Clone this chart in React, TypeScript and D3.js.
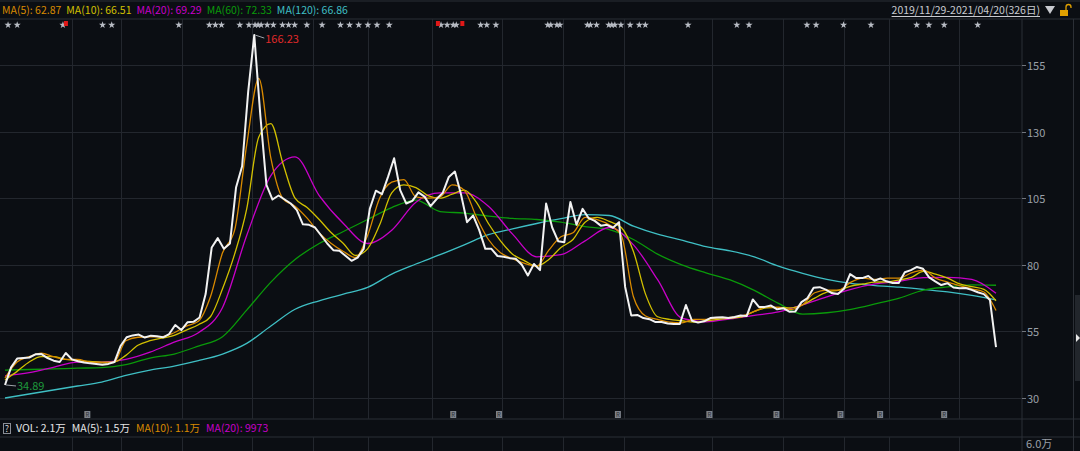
import React, { useEffect, useRef } from 'react';
import * as d3 from 'd3';

// trading days in the window 2019/11/29 - 2021/04/20
const DAYS = 326;

// daily close, read every ~2 trading days
const closes = [
  34.89, 41.5, 44.8, 45, 45.2, 46.4, 46.5, 45, 44, 43.5,
  46.9, 44.5, 43.8, 43.3, 43, 42.8, 42.5, 42.8, 43.5, 49.5,
  52.8, 53.5, 53.8, 52.7, 53.4, 53.2, 52.8, 54, 57.4, 55.5,
  58.4, 58.6, 60.2, 69, 86.5, 90, 86, 88, 109, 117,
  145, 166.23, 136, 110, 104.5, 106, 104.5, 103, 100.5, 95.2,
  95, 94, 91, 88, 85.5, 85.3, 83.4, 81.5, 82.7, 86,
  101, 107.8, 106.5, 113, 120, 108, 103, 104, 107.2, 105.6,
  102, 104.7, 107, 113, 115, 106.5, 96, 98.5, 93, 86,
  86, 83.3, 83, 82.5, 82.3, 80, 76, 80.3, 78, 103,
  94, 88.8, 88.5, 103.6, 95, 101, 97.5, 96.5, 94.7, 95,
  93.9, 96, 71.7, 61, 61.2, 60, 59.6, 58.5, 58.5, 58,
  57.8, 57.8, 64.9, 59, 58.3, 58.8, 60, 60.2, 60.3, 60,
  60.4, 61, 60.8, 67, 64.2, 64.2, 64.7, 63.3, 63.7, 62.4,
  62.5, 66, 67.5, 71.4, 71.6, 70.7, 69.4, 69, 71, 76.5,
  75, 75, 75.8, 74, 74.9, 73.8, 73.2, 73.2, 77.2, 78,
  79.2, 78.5, 75.3, 73.8, 72.4, 73.1, 71.5, 71.2, 71.3, 70.6,
  69.7, 69, 66.8, 49.1,
];

const ma5 = [
  37.5, 43.5, 45.5, 46.8, 45.5, 44.5, 44.5, 43.5, 43.2, 43.3,
  51.5, 52.8, 53, 53, 54.5, 57, 58.8, 68, 84.5, 93,
  125, 150, 120, 104.8, 102, 97.5, 92, 88, 85, 82.7,
  91, 105, 111, 112, 105.5, 105, 105.5, 110, 108, 98,
  89.5, 84.5, 82.3, 80.5, 79.5, 85.5, 90.5, 92, 97.8, 97,
  95, 91, 68, 60.8, 59.5, 58.5, 58.2, 59.5, 59.5, 60,
  60.3, 60.8, 62.5, 64.2, 64, 63.2, 65, 69.5, 70.5, 70.5,
  73.5, 75, 74.5, 75, 75, 77, 78, 75, 73.5, 72.2,
  71, 69.8, 62.87,
];

const ma10 = [
  36.8, 40, 43.5, 45.5, 45.5, 44.5, 44, 43.7, 43.5, 43.5,
  46, 49.8, 51.5, 52.5, 53.5, 55.5, 57.5, 60.5, 71, 84,
  101, 128, 133, 118, 105, 101.5, 97, 92, 88, 83.5,
  86, 95, 107, 110, 109, 106, 105, 106.5, 108, 103.5,
  95.5, 89, 84, 81.5, 79.5, 82, 86.5, 89.5, 96, 97.8,
  96.3, 94, 85, 69, 60.5, 59.5, 59, 58.5, 59, 59.5,
  60, 60.5, 62.5, 63.8, 64, 63.8, 65, 67.5, 69.7, 70.5,
  72, 72.8, 73.5, 73.6, 74.3, 75.3, 77.5, 76.5, 75, 72.8,
  71.8, 70.8, 66.51,
];

const ma20 = [
  38.3, 39.5, 41.5, 43.5, 43.5, 44.5, 47.2, 51, 54.5, 64,
  91, 113.5, 120.5, 106, 95.5, 88, 93, 103.5, 107, 107,
  102, 91.5, 83, 83.8, 89, 94, 87.5, 74.4, 60, 58.6,
  59.7, 61, 62.3, 65, 68, 70.8, 72.8, 73.8, 75.2, 75.3,
  74.5, 69.29,
];

const ma60 = [
  40.5, 40.7, 40.9, 41.2, 41.4, 42.5, 45, 46.5, 49.5, 53,
  63, 73.5, 82, 88, 92.5, 97, 101.5, 104.3, 100, 99.4,
  98.3, 97.4, 97, 96, 94.3, 93.2, 89.5, 84, 80, 77,
  74.3, 70.4, 65.5, 61.5, 62, 63.3, 65.3, 67.5, 70.5, 71.7,
  72.5, 72.33,
];

const ma120 = [
  30, 31.5, 33, 34.5, 36, 38.5, 40.5, 42, 44, 46.5,
  50.5, 57, 63.3, 66.5, 69, 71.5, 76.5, 80.3, 83.8, 87.5,
  91.3, 93.5, 95.5, 97.3, 98.8, 98.5, 94.5, 91.5, 89.3, 86.8,
  85.2, 83, 79.5, 76.8, 74.5, 73, 72.2, 71.6, 70.8, 69.8,
  68.5, 66.86,
];

const priceTicks = [30, 55, 80, 105, 130, 155];
// day index of the vertical separators
const gridDays = [22, 38, 58, 81, 101, 119, 140, 163, 183, 203, 232, 255, 275, 290, 313];
// day index of info-mine stars on top row
const starDays = [
  1, 4, 19, 32, 35, 57, 67, 69, 71, 77, 80, 82, 83, 84, 86, 88, 91, 93, 95, 99,
  104, 110, 113, 116, 119, 122, 126, 143, 145, 147, 148, 156, 158, 161, 178, 179,
  181, 182, 191, 192, 194, 198, 199, 200, 202, 205, 208, 210, 224, 240, 244, 263,
  266, 275, 284, 299, 303, 308, 319,
];
const redMarkDays = [19, 141, 149];
const rMarkDays = [27, 147, 162, 201, 231, 253, 274, 287, 308];

const maLegend = ['MA(5): 62.87', 'MA(10): 66.51', 'MA(20): 69.29', 'MA(60): 72.33', 'MA(120): 66.86'];
const volLegend = ['VOL: 2.1万', 'MA(5): 1.5万', 'MA(10): 1.1万', 'MA(20): 9973'];
const dateRange = '2019/11/29-2021/04/20(326日)';
const volTopLabel = '6.0万';

const FONT = '"Noto Sans CJK SC", "Noto Sans", sans-serif';

const App: React.FC = () => {
  const svgRef = useRef<SVGSVGElement>(null);

  useEffect(() => {
    if (!svgRef.current) return;
    const svg = d3.select(svgRef.current);
    svg.selectAll('*').remove();

    const width = 1080;
    const height = 451;
    const axisX = 1022;

    svg.attr('width', width).attr('height', height);
    svg.append('rect').attr('width', width).attr('height', height).attr('fill', '#0b0e13');

    const y = d3.scaleLinear().domain([30, 155]).range([398, 65]);
    const day = d3.scaleLinear().domain([0, DAYS - 1]).range([5, 996]);
    const xOf = (n: number) => (i: number) => day((i * (DAYS - 1)) / (n - 1));

    const panelLine = '#2b2f36';
    const gridColor = '#23272e';

    // frame lines
    [1, 19, 419, 437].forEach(yy => {
      svg.append('line').attr('x1', 0).attr('x2', width).attr('y1', yy).attr('y2', yy)
        .attr('stroke', panelLine).attr('stroke-width', 1);
    });
    svg.append('line').attr('x1', axisX).attr('x2', axisX).attr('y1', 19).attr('y2', height)
      .attr('stroke', panelLine);
    svg.append('line').attr('x1', 1073.5).attr('x2', 1073.5).attr('y1', 19).attr('y2', height)
      .attr('stroke', panelLine);

    // vertical grid
    gridDays.forEach(d => {
      const x = Math.round(day(d)) + 0.5;
      [[19, 419], [437, height]].forEach(([a, b]) => {
        svg.append('line').attr('x1', x).attr('x2', x).attr('y1', a).attr('y2', b)
          .attr('stroke', gridColor);
      });
    });

    // horizontal grid + axis labels
    priceTicks.forEach(t => {
      const yy = Math.round(y(t)) + 0.5;
      svg.append('line').attr('x1', 0).attr('x2', axisX).attr('y1', yy).attr('y2', yy)
        .attr('stroke', gridColor);
      svg.append('line').attr('x1', axisX).attr('x2', axisX + 4).attr('y1', yy).attr('y2', yy)
        .attr('stroke', '#70757d');
      svg.append('text').attr('x', axisX + 5).attr('y', yy + 4)
        .attr('fill', '#9aa0a8').attr('font-family', FONT).attr('font-size', '11px')
        .text(t);
    });
    svg.append('text').attr('x', axisX + 4).attr('y', 448)
      .attr('fill', '#9aa0a8').attr('font-family', FONT).attr('font-size', '11px')
      .text(volTopLabel);

    // scroll handle on the right edge
    svg.append('rect').attr('x', 1075).attr('y', 295).attr('width', 5).attr('height', 86).attr('fill', '#22262c');
    svg.append('path').attr('d', 'M1076,334 L1080,338 L1076,342 Z').attr('fill', '#e8e8e8');

    // price lines, clipped to the plot
    const defs = svg.append('defs');
    defs.append('clipPath').attr('id', 'plotClip')
      .append('rect').attr('x', 0).attr('y', 20).attr('width', axisX).attr('height', 398);
    const g = svg.append('g').attr('clip-path', 'url(#plotClip)');

    const drawSeries = (vals: number[], color: string, w: number, smooth: boolean) => {
      const xs = xOf(vals.length);
      const line = d3.line<number>()
        .x((_, i) => xs(i))
        .y(d => y(d))
        .curve(smooth ? d3.curveMonotoneX : d3.curveLinear);
      g.append('path').datum(vals).attr('d', line)
        .attr('fill', 'none').attr('stroke', color).attr('stroke-width', w)
        .attr('stroke-linejoin', 'round');
    };

    drawSeries(ma120, '#3fbfc4', 1.3, true);
    drawSeries(ma60, '#0a9a0a', 1.3, true);
    drawSeries(ma20, '#c800c8', 1.3, true);
    drawSeries(ma10, '#d2c000', 1.3, true);
    drawSeries(ma5, '#d98a00', 1.3, true);
    drawSeries(closes, '#f2f2f2', 2, false);

    // high / low labels
    const cx = xOf(closes.length);
    const iMax = d3.maxIndex(closes);
    const iMin = d3.minIndex(closes);
    const hx = cx(iMax);
    const hy = y(closes[iMax]);
    svg.append('path').attr('d', `M${hx + 1},${hy} L${hx + 10},${hy + 3}`)
      .attr('stroke', '#a0a4aa').attr('fill', 'none');
    svg.append('text').attr('x', hx + 11).attr('y', hy + 8)
      .attr('fill', '#e02a2a').attr('font-family', FONT).attr('font-size', '11px')
      .text(closes[iMax].toFixed(2));
    const lx = cx(iMin);
    const ly = y(closes[iMin]);
    svg.append('path').attr('d', `M${lx + 1},${ly} L${lx + 11},${ly + 1}`)
      .attr('stroke', '#a0a4aa').attr('fill', 'none');
    svg.append('text').attr('x', lx + 12).attr('y', ly + 5)
      .attr('fill', '#1e9a3c').attr('font-family', FONT).attr('font-size', '11px')
      .text(closes[iMin].toFixed(2));

    // info stars on the top row
    const star = d3.symbol().type(d3.symbolStar).size(16);
    starDays.forEach(d => {
      svg.append('path').attr('d', star()).attr('transform', `translate(${day(d)},25)`)
        .attr('fill', '#b8bcc4');
    });
    redMarkDays.forEach(d => {
      svg.append('rect').attr('x', day(d) + 1).attr('y', 21).attr('width', 4).attr('height', 5)
        .attr('fill', '#e01818');
    });

    // R markers near the bottom of the price panel
    rMarkDays.forEach(d => {
      const x = day(d);
      svg.append('rect').attr('x', x - 3).attr('y', 411).attr('width', 6).attr('height', 7)
        .attr('fill', '#7d828a');
      svg.append('text').attr('x', x).attr('y', 417).attr('text-anchor', 'middle')
        .attr('fill', '#2a2d33').attr('font-family', FONT).attr('font-size', '6px')
        .text('R');
    });

    // top legend
    const maColors = ['#d98a00', '#d2c000', '#c800c8', '#0a9a0a', '#3fbfc4'];
    let lxPos = 2;
    maLegend.forEach((label, i) => {
      const t = svg.append('text').attr('x', lxPos).attr('y', 14)
        .attr('fill', maColors[i]).attr('font-family', FONT).attr('font-size', '10.5px')
        .text(label);
      const node = t.node() as SVGTextElement;
      lxPos += node.getComputedTextLength() + 5;
    });

    const dt = svg.append('text').attr('x', 1040).attr('y', 14).attr('text-anchor', 'end')
      .attr('fill', '#c8cacf').attr('font-family', FONT).attr('font-size', '10.5px')
      .text(dateRange);
    const dtw = (dt.node() as SVGTextElement).getComputedTextLength();
    svg.append('line').attr('x1', 1040 - dtw).attr('x2', 1040).attr('y1', 16.5).attr('y2', 16.5)
      .attr('stroke', '#c8cacf');
    svg.append('path').attr('d', 'M1045,6 L1055,6 L1050,14 Z').attr('fill', '#c8cacf');
    // lock
    svg.append('rect').attr('x', 1060).attr('y', 10).attr('width', 8).attr('height', 6).attr('fill', '#e0a000');
    svg.append('path').attr('d', 'M1066,10 L1066,7 Q1066,4.5 1068.5,4.5 Q1071,4.5 1071,7 L1071,8')
      .attr('fill', 'none').attr('stroke', '#e0a000').attr('stroke-width', 1.3);

    // volume legend
    svg.append('rect').attr('x', 3.5).attr('y', 423.5).attr('width', 7).attr('height', 10)
      .attr('fill', 'none').attr('stroke', '#8a8e96');
    svg.append('text').attr('x', 7).attr('y', 432).attr('text-anchor', 'middle')
      .attr('fill', '#d0d0d0').attr('font-family', FONT).attr('font-size', '9px').text('?');
    const volColors = ['#e6e6e6', '#e6e6e6', '#d98a00', '#c800c8'];
    let vx = 16;
    volLegend.forEach((label, i) => {
      const t = svg.append('text').attr('x', vx).attr('y', 432)
        .attr('fill', volColors[i]).attr('font-family', FONT).attr('font-size', '10.5px')
        .text(label);
      vx += (t.node() as SVGTextElement).getComputedTextLength() + 6;
    });
  }, []);

  return (
    <div style={{ position: 'fixed', left: 0, top: 0, width: 1080, height: 451, background: '#0b0e13' }}>
      <svg ref={svgRef} style={{ display: 'block' }}></svg>
    </div>
  );
};

export default App;
